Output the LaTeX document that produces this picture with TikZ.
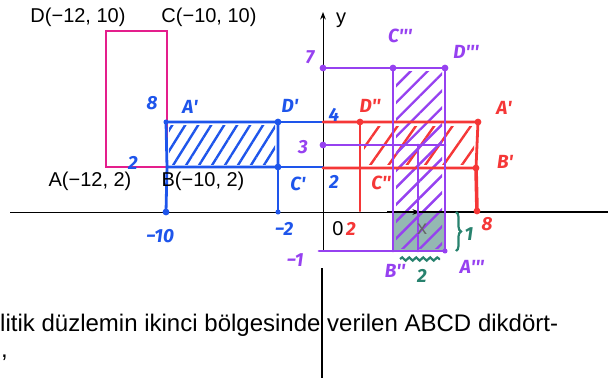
\documentclass[tikz,border=0pt]{standalone}
\usepackage{fontspec}
\setmainfont{Liberation Sans}
\newfontfamily\handfont{Fira Sans}
\usepackage{xcolor}
\usetikzlibrary{arrows.meta, positioning, calc, patterns.meta, decorations.pathreplacing, decorations.pathmorphing}

\definecolor{printpink}{RGB}{228,30,140}
\definecolor{penblue}{RGB}{30,85,235}
\definecolor{penred}{RGB}{245,55,55}
\definecolor{penpurple}{RGB}{150,65,240}
\definecolor{penteal}{RGB}{40,130,110}
\definecolor{tealfill}{RGB}{148,184,178}
\newcommand{\hk}{\textquotesingle}

\begin{document}
\begin{tikzpicture}[
    x=1pt, y=-1pt,
    >=Stealth,
    dot/.style={circle, fill, inner sep=2.4pt},
    pen/.style={line width=2.8pt, line cap=round, line join=round},
    axis/.style={line width=1pt},
    printed/.style={font=\fontsize{20}{24}\selectfont},
    hand/.style={font=\handfont\bfseries\itshape\fontsize{19}{22}\selectfont, inner sep=0pt},
    blue hatch/.style={pattern={Lines[angle=58, distance=11pt, line width=2.4pt]}, pattern color=penblue},
    red hatch/.style={pattern={Lines[angle=55, distance=15pt, line width=2.4pt]}, pattern color=penred},
    purple hatch/.style={pattern={Lines[angle=45, distance=12pt, line width=2.4pt]}, pattern color=penpurple}
]
    \useasboundingbox (0,0) rectangle (608,380);

    % Printed rectangle ABCD
    \coordinate (A) at (106,167);
    \coordinate (B) at (167,167);
    \coordinate (C) at (167,31);
    \coordinate (D) at (106,31);
    \draw[printpink, line width=1.7pt] (A) -- (B) -- (C) -- (D) -- cycle;

    % Fills and hatching
    \fill[tealfill] (392,212) rectangle (445,251);
    \fill[red hatch] (364,126) rectangle (474,164);
    \fill[blue hatch] (169,125) rectangle (275,164);
    \fill[purple hatch] (396,71) rectangle (442,248);

    % Axes
    \coordinate (xl) at (10,212);
    \coordinate (xt) at (420,212);
    \coordinate (xk) at (387,212);
    \coordinate (xr) at (608,212);
    \coordinate (yb) at (323,251);
    \coordinate (yt) at (323,12);
    \coordinate (yk) at (322,268);
    \coordinate (ye) at (322,378);
    \draw[->, axis] (xl) -- (xt);
    \draw[line width=2.4pt] (xk) -- (xr);
    \draw[->, axis] (yb) -- (yt);

    % Blue image A'B'C'D'
    \node[dot, penblue, inner sep=1.8pt] (A1) at (166,122) {};
    \node[dot, penblue] (D1) at (278,122) {};
    \node[dot, penblue] (C1) at (278,167) {};
    \node[dot, penblue] (m10) at (166,212) {};
    \node[dot, penblue, inner sep=1.8pt] (m2) at (278,212) {};
    \coordinate (b4) at (323,122);
    \coordinate (b2) at (323,167);
    \draw[pen, penblue] (A1.center) -- (D1.center) -- (C1.center) -- (B) -- cycle;
    \draw[pen, penblue] (D1.center) -- (b4);
    \draw[pen, penblue] (C1.center) -- (b2);
    \draw[pen, penblue] (B) -- (m10.center);
    \draw[pen, penblue] (C1.center) -- (m2.center);

    % Red image
    \node[dot, penred] (D2) at (360,122) {};
    \node[dot, penred] (A2) at (478,122) {};
    \node[dot, penred] (B2) at (476,168) {};
    \node[dot, penred] (r8) at (477,211) {};
    \coordinate (C2) at (360,168);
    \coordinate (r2) at (360,211);
    \coordinate (r4) at (323,122);
    \coordinate (rr2) at (323,168);
    \draw[pen, penred] (r4) -- (A2.center) -- (B2.center) -- (rr2);
    \draw[pen, penred] (D2.center) -- (C2) -- (r2);
    \draw[penred, line width=3.6pt, line cap=round] (B2.center) -- (r8.center);

    % Purple image
    \node[dot, penpurple] (p7) at (323,68) {};
    \node[dot, penpurple] (C3) at (393,68) {};
    \node[dot, penpurple] (D3) at (445,68) {};
    \node[dot, penpurple] (p3) at (323,145) {};
    \node[dot, penpurple, inner sep=1.8pt] (A3) at (445,251) {};
    \coordinate (p3r) at (445,145);
    \coordinate (pin) at (418,145);
    \coordinate (pinb) at (418,251);
    \coordinate (B3) at (393,251);
    \coordinate (m1) at (319,251);
    \draw[pen, penpurple] (p7.center) -- (D3.center) -- (A3.center) -- (m1);
    \draw[pen, penpurple] (C3.center) -- (B3);
    \draw[pen, penpurple] (p3.center) -- (p3r);
    \draw[pen, penpurple] (pin) -- (pinb);

    % Teal marks
    \coordinate (bt) at (456,212);
    \coordinate (bb) at (456,251);
    \coordinate (wl) at (400,259);
    \coordinate (wr) at (440,259);
    \draw[penteal, line width=2.2pt, decorate, decoration={brace, amplitude=5pt}] (bt) -- (bb);
    \draw[penteal, line width=2.2pt, decorate, decoration={snake, amplitude=1.6pt, segment length=7pt}] (wl) -- (wr);

    % Printed labels
    \node[printed] (Dlab) at (78,17) {D(−12, 10)};
    \node[printed] (Clab) at (209,17) {C(−10, 10)};
    \node[printed] (Alab) at (90,181) {A(−12, 2)};
    \node[printed] (Blab) at (203,181) {B(−10, 2)};
    \node[printed] (ylab) at (341,20) {y};
    \node[printed, black!60] (xlab) at (422,229) {x};
    \node[printed] (olab) at (338,229) {0};

    % Blue labels
    \node[hand, penblue] (l8) at (152,103) {8};
    \node[hand, penblue] (l2) at (133,163) {2};
    \node[hand, penblue] (lA1) at (190,107) {A\hk};
    \node[hand, penblue] (lD1) at (290,106) {D\hk};
    \node[hand, penblue] (lC1) at (298,184) {C\hk};
    \node[hand, penblue] (lm10) at (160,236) {−10};
    \node[hand, penblue] (lm2) at (284,229) {−2};
    \node[hand, penblue] (l4) at (334,115) {4};
    \node[hand, penblue] (ly2) at (334,182) {2};

    % Red labels
    \node[hand, penred] (lD2) at (370,106) {D\hk\hk};
    \node[hand, penred] (lA2) at (504,108) {A\hk};
    \node[hand, penred] (lB2) at (505,162) {B\hk};
    \node[hand, penred] (lC2) at (381,183) {C\hk\hk};
    \node[hand, penred] (lx2) at (351,229) {2};
    \node[hand, penred] (lx8) at (487,224) {8};

    % Purple labels
    \node[hand, penpurple] (l7) at (310,57) {7};
    \node[hand, penpurple] (l3) at (303,147) {3};
    \node[hand, penpurple] (lm1) at (295,260) {−1};
    \node[hand, penpurple] (lC3) at (400,36) {C\hk\hk\hk};
    \node[hand, penpurple] (lD3) at (466,52) {D\hk\hk\hk};
    \node[hand, penpurple] (lB3) at (395,271) {B\hk\hk};
    \node[hand, penpurple] (lA3) at (472,267) {A\hk\hk\hk};

    % Teal labels
    \node[hand, penteal] (lh1) at (469,234) {1};
    \node[hand, penteal] (lw2) at (422,276) {2};

    % Printed text below
    \node[font=\fontsize{24}{28}\selectfont, anchor=base west, inner sep=0pt] (line1) at (0,331)
        {\makebox[558pt][s]{litik düzlemin ikinci bölgesinde verilen ABCD dikdört-}};
    \node[font=\fontsize{24}{28}\selectfont, anchor=base west, inner sep=0pt] (line2) at (1,357) {,};
    \draw[line width=1.7pt] (yk) -- (ye);
\end{tikzpicture}
\end{document}
